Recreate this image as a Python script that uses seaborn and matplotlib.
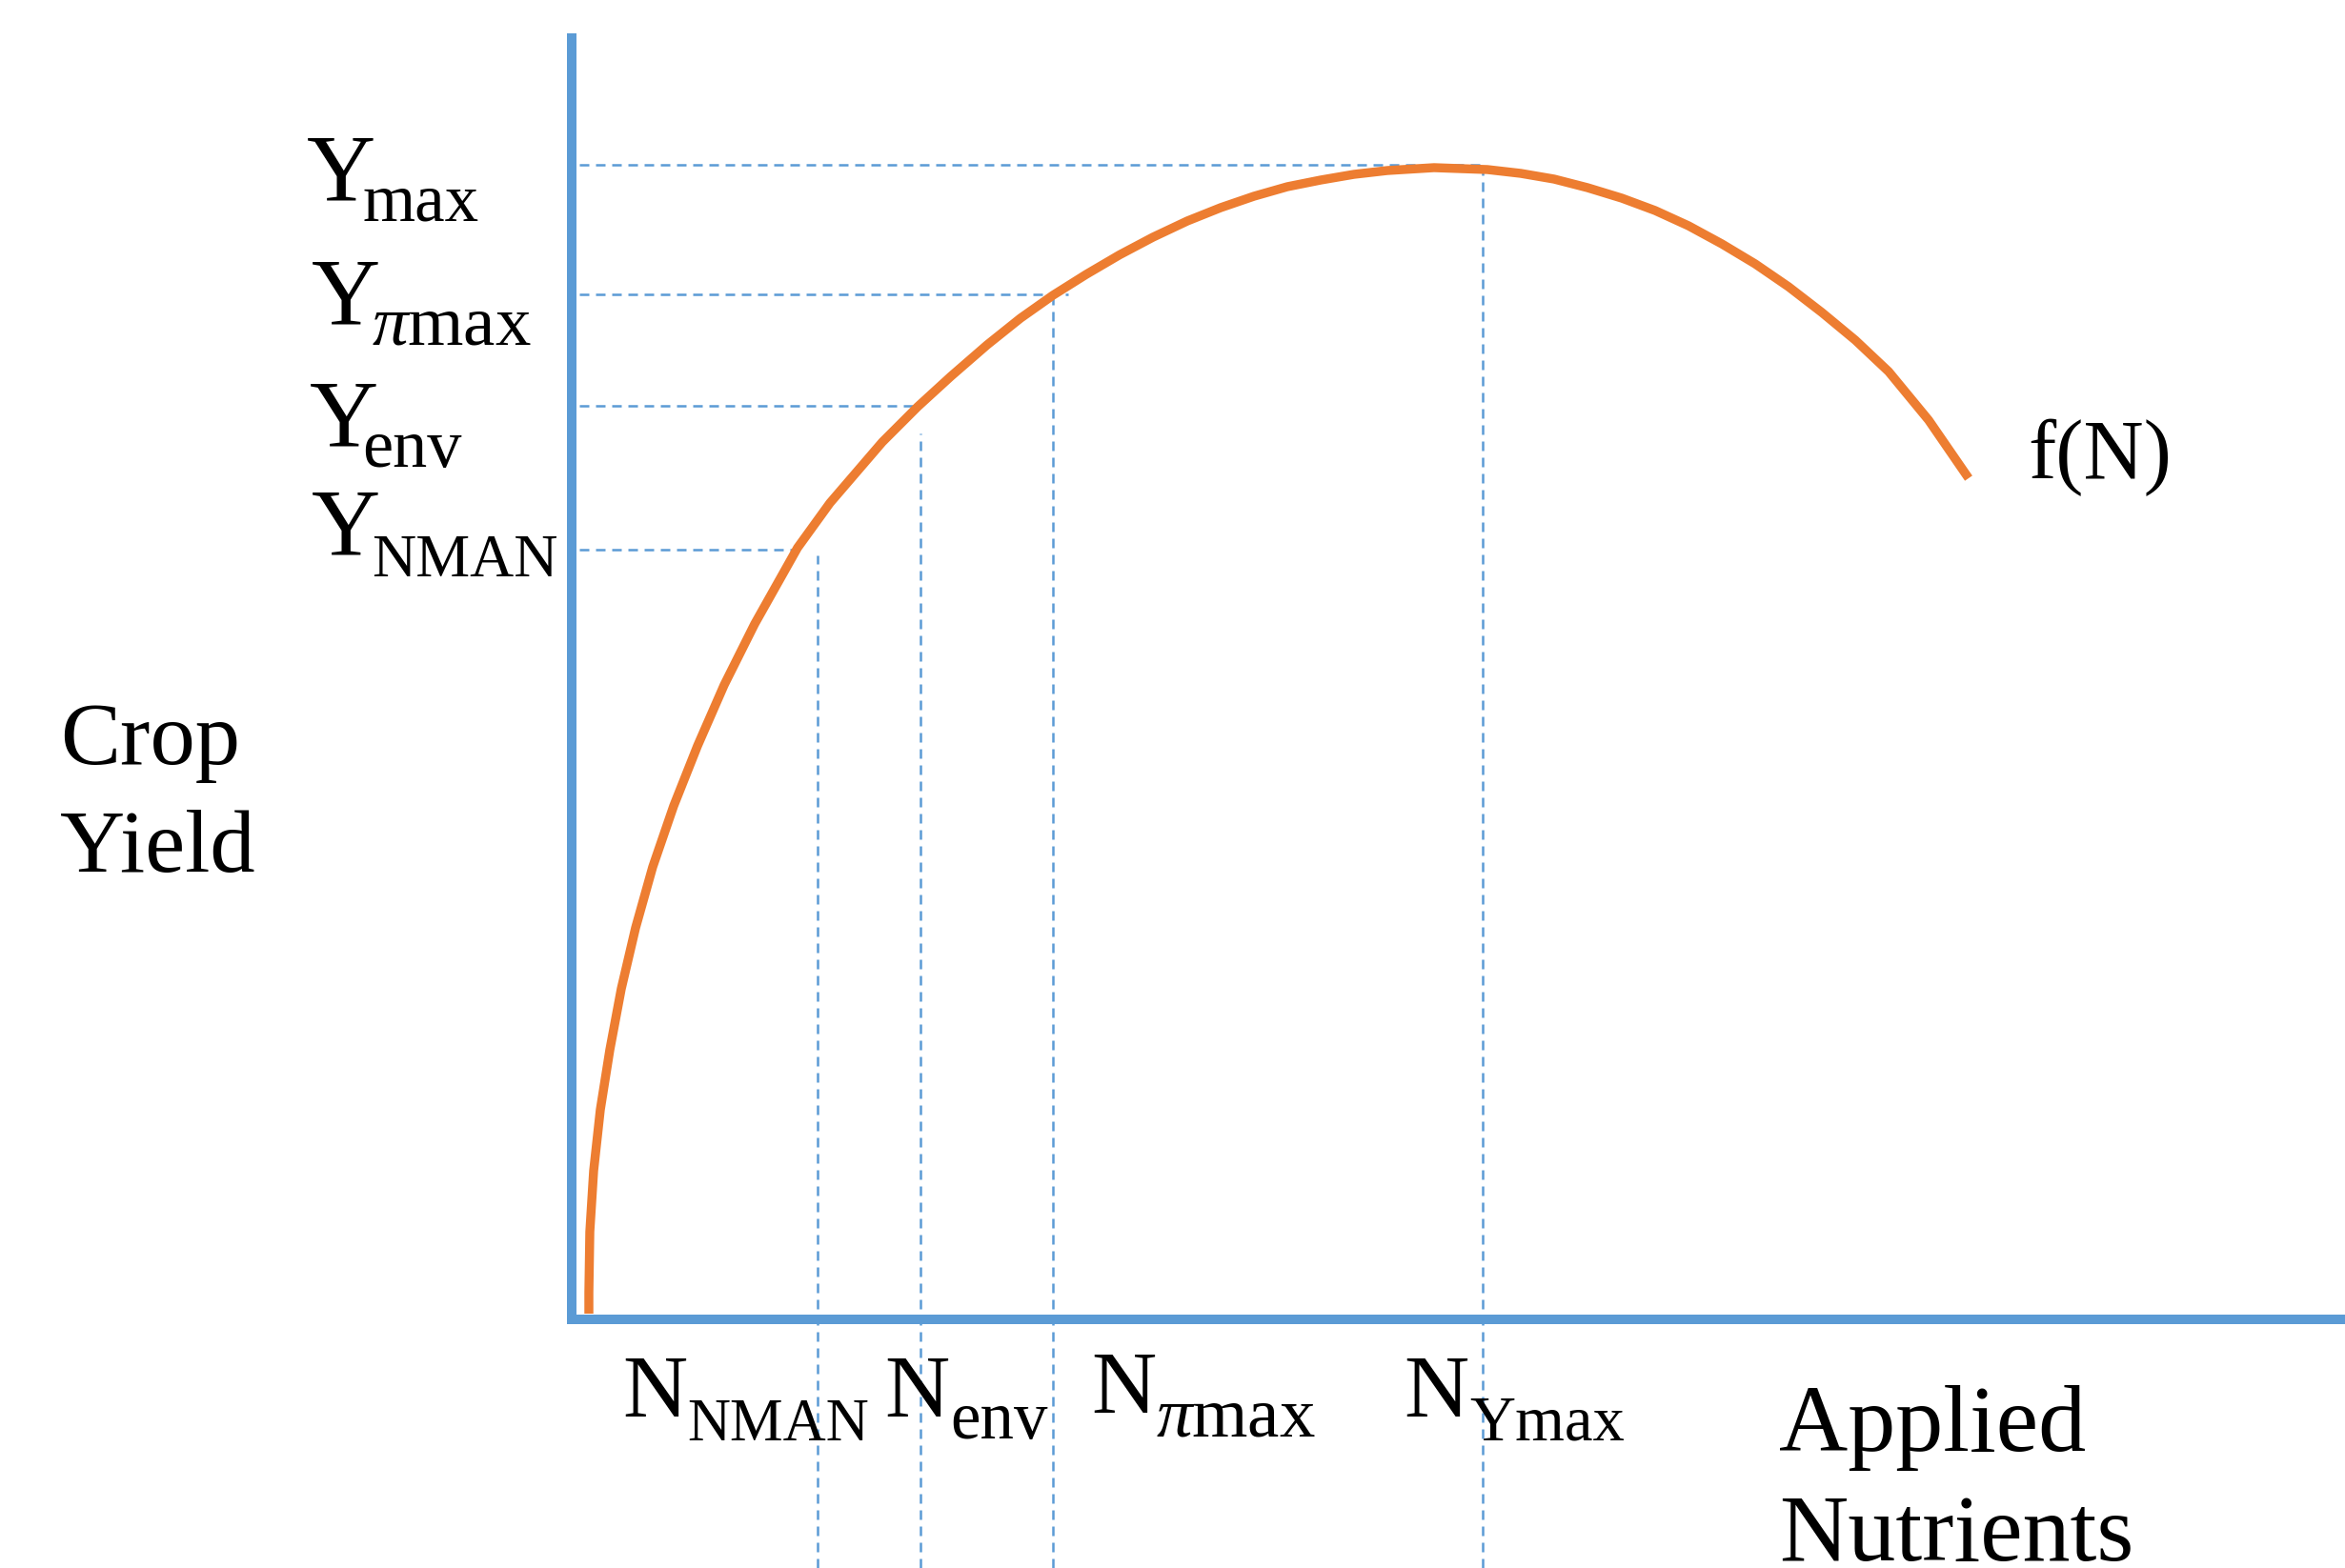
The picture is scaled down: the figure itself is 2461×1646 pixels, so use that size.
import matplotlib
matplotlib.use("Agg")
import matplotlib.pyplot as plt
import seaborn as sns

# f(N) response curve (arbitrary units)
nutrient_rate = [1.8, 1.8, 1.9, 2.3, 3.0, 4.0, 5.2, 6.7, 8.5, 10.7, 13.2, 16.0,
                 19.2, 22.8, 23.7, 27.1, 32.6, 36.3, 39.8, 43.6, 47.1, 50.5,
                 54.0, 57.5, 61.0, 64.6, 68.1, 71.6, 75.1, 78.6, 82.1, 85.6,
                 90.5, 96.1, 99.6, 103.1, 106.6, 110.2, 113.7, 117.2, 120.7,
                 124.2, 127.7, 131.2, 134.7, 138.2, 142.4, 146.6]
crop_yield = [0.6, 2.8, 9.2, 15.6, 22.0, 28.3, 34.7, 41.1, 47.5, 53.9, 60.2, 66.6,
              73.0, 79.4, 81.0, 85.7, 92.1, 95.8, 99.0, 102.3, 105.1, 107.5,
              109.7, 111.75, 113.6, 115.3, 116.7, 117.9, 118.9, 119.6, 120.2, 120.6,
              120.9, 120.7, 120.3, 119.7, 118.8, 117.7, 116.4, 114.8, 112.9,
              110.8, 108.4, 105.7, 102.8, 99.5, 94.4, 88.3]

# marked yields (horizontal guides) and the N where each guide stops
yield_levels = [121.2, 107.6, 95.9, 80.8]
yield_guide_end = [96.0, 52.1, 36.2, 23.6]
yield_subs = ['max', r'$\pi$max', 'env', 'NMAN']

# marked nutrient rates (vertical guides) and the yield where each guide starts
nutrient_levels = [25.8, 36.6, 50.5, 95.6]
nutrient_guide_top = [80.2, 93.0, 107.6, 121.2]
nutrient_subs = ['NMAN', 'env', r'$\pi$max', 'Ymax']

BLUE = '#5B9BD5'
ORANGE = '#ED7D31'

sns.set_style("white")
plt.rcParams['font.family'] = ['Liberation Serif', 'DejaVu Serif']
plt.rcParams['text.color'] = 'black'
plt.rcParams['mathtext.fontset'] = 'custom'
plt.rcParams['mathtext.rm'] = 'Liberation Serif'
plt.rcParams['mathtext.it'] = 'Liberation Serif:italic'

fig = plt.figure(figsize=(24.61, 16.46), dpi=100)
ax = fig.add_axes([0, 0, 1, 1])
ax.set_xlim(-60, 186.1)
ax.set_ylim(-26.1, 138.5)

# dashed guides
guide = dict(color=BLUE, lw=1.8, dashes=(4, 2.8), zorder=1)
for lvl, end in zip(yield_levels, yield_guide_end):
    ax.plot([0.8, end], [lvl, lvl], **guide)
for n, top in zip(nutrient_levels, nutrient_guide_top):
    ax.plot([n, n], [-26.1, top], **guide)

# the curve
sns.lineplot(x=nutrient_rate, y=crop_yield, sort=False, estimator=None,
             color=ORANGE, lw=6.8, ax=ax, zorder=3)
ax.lines[-1].set_solid_capstyle('butt')
ax.lines[-1].set_solid_joinstyle('round')

# axes drawn as spines through the origin
for side in ['top', 'right']:
    ax.spines[side].set_visible(False)
for side in ['left', 'bottom']:
    ax.spines[side].set_position(('data', 0))
    ax.spines[side].set_color(BLUE)
    ax.spines[side].set_linewidth(7.2)
    ax.spines[side].set_zorder(4)
ax.spines['left'].set_bounds(0, 134.5)
ax.spines['bottom'].set_bounds(0, 186.1)
ax.set_xticks([])
ax.set_yticks([])

# symbol + subscript labels: (main x, main baseline, sub x, sub baseline, sub size)
ylab_layout = [(-27.8, 117.5, -22.0, 115.3, 51),
               (-27.3, 104.5, -21.0, 102.3, 54),
               (-27.5, 91.8, -22.0, 89.5, 52),
               (-27.3, 80.3, -21.0, 78.0, 46)]
for sub, (x, y, sx, sy, fs) in zip(yield_subs, ylab_layout):
    ax.text(x, y, 'Y', fontsize=72, ha='left', va='baseline')
    ax.text(sx, sy, sub, fontsize=fs, ha='left', va='baseline')

xlab_layout = [(5.3, -10.2, 12.1, -12.7, 45),
               (32.8, -10.2, 39.7, -12.5, 51),
               (54.5, -9.8, 61.3, -12.2, 54),
               (87.3, -10.2, 94.2, -12.7, 48)]
for sub, (x, y, sx, sy, fs) in zip(nutrient_subs, xlab_layout):
    ax.text(x, y, 'N', fontsize=68, ha='left', va='baseline')
    ax.text(sx, sy, sub, fontsize=fs, ha='left', va='baseline')

ax.text(-53.7, 58.3, 'Crop', fontsize=68, ha='left', va='baseline')
ax.text(-53.7, 47.0, 'Yield', fontsize=68, ha='left', va='baseline')
ax.text(126.7, -13.8, 'Applied', fontsize=72, ha='left', va='baseline')
ax.text(126.7, -25.3, 'Nutrients', fontsize=72, ha='left', va='baseline')
ax.text(152.8, 88.3, 'f(N)', fontsize=63, ha='left', va='baseline')

plt.savefig('out.png', dpi=100)
